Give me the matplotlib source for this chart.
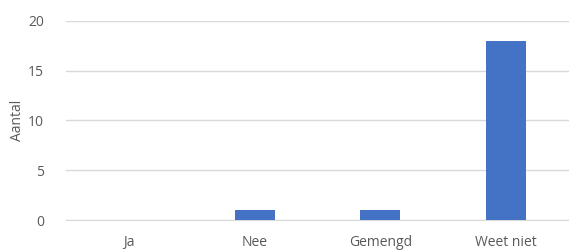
import matplotlib
matplotlib.use("Agg")
import matplotlib.pyplot as plt

categories = ["Ja", "Nee", "Gemengd", "Weet niet"]
values = [0, 1, 1, 18]
yticks = [0, 5, 10, 15, 20]

plt.rcParams['font.family'] = ['Open Sans', 'DejaVu Sans']
fig = plt.figure(figsize=(5.69, 2.5), dpi=100)
ax = fig.add_axes([66/569, 30/250, 503/569, 199/250])
x = range(len(categories))
ax.bar(x, values, width=0.317, color="#4472C4", zorder=3)
ax.set_xlim(-0.5, 3.5)
ax.set_ylim(0, 20)
ax.set_yticks(yticks)
ax.set_xticks(list(x))
ax.set_xticklabels(categories)
ax.grid(axis="y", color="#D9D9D9", linewidth=1, zorder=0)
for s in ["top", "right", "left"]:
    ax.spines[s].set_visible(False)
ax.spines["bottom"].set_color("#D9D9D9")
ax.tick_params(axis="both", length=0, colors="#595959", labelsize=10)
ax.tick_params(axis="y", pad=16)
ax.tick_params(axis="x", pad=11)
ax.set_ylabel("Aantal", color="#595959", fontsize=10, labelpad=2)
fig.savefig("out.png", dpi=100)
